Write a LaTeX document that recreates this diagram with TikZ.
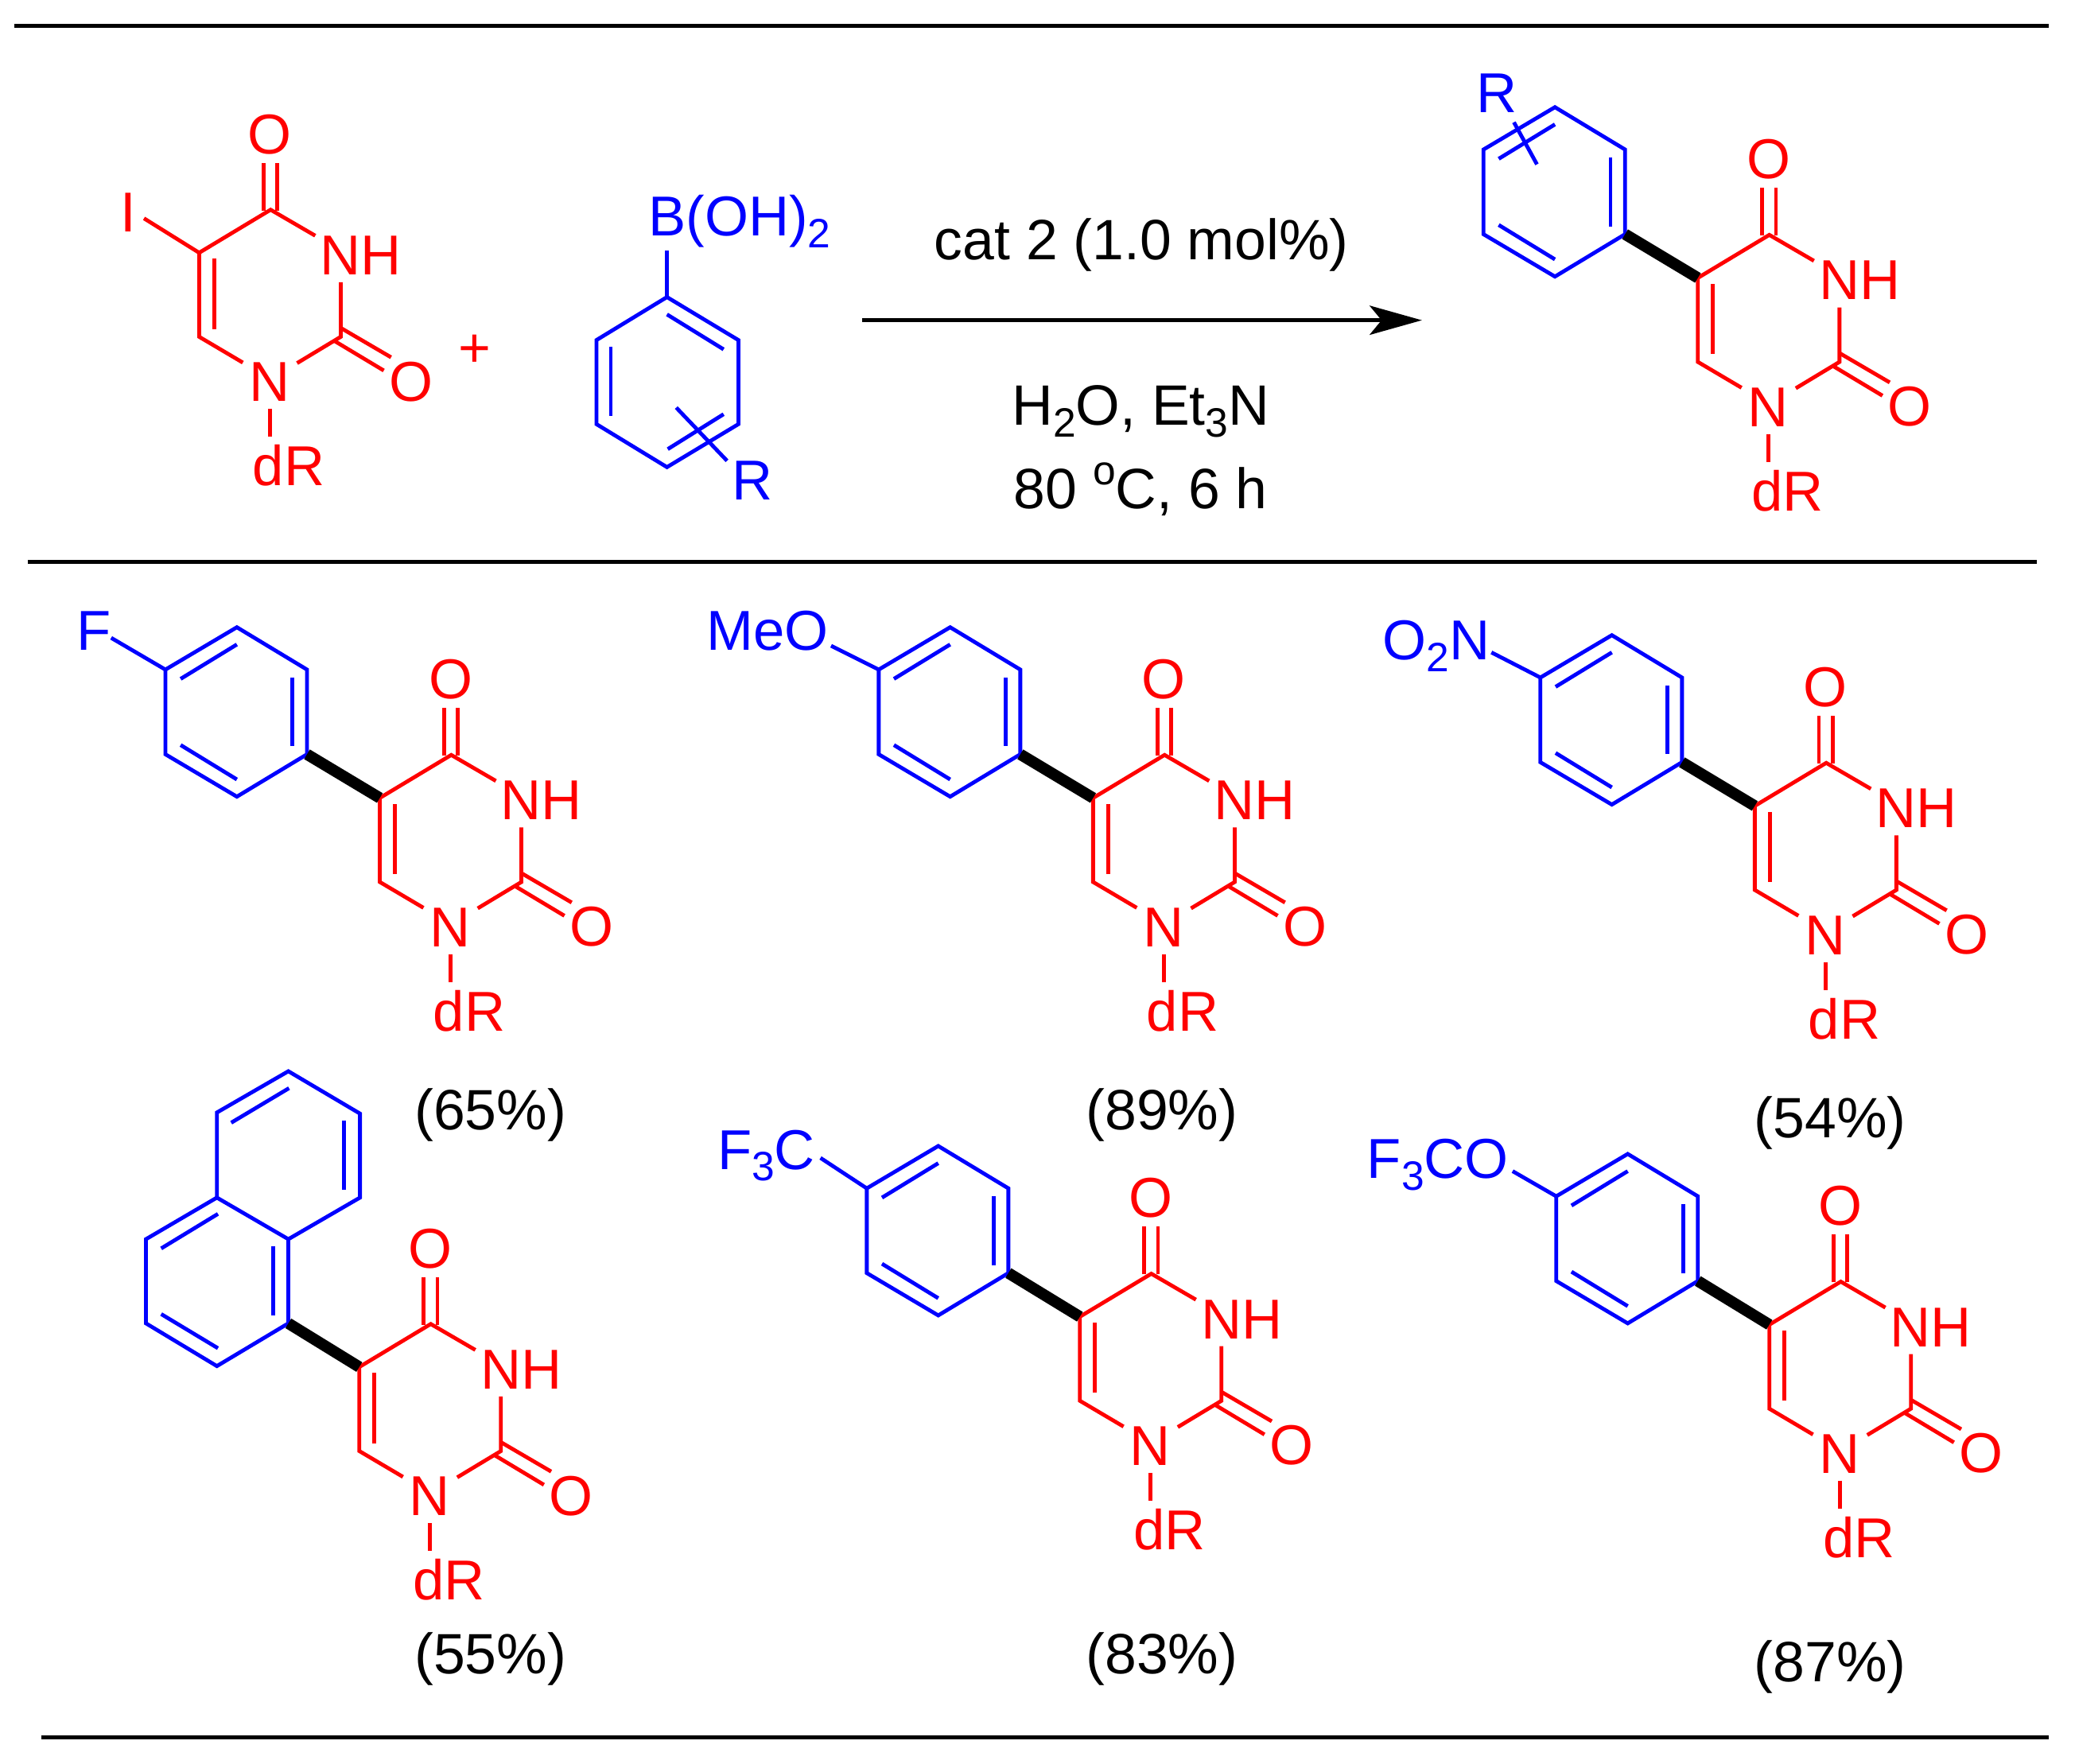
\documentclass[tikz,border=0pt]{standalone}
\usepackage{fontspec}
\setmainfont{Liberation Sans}
\usetikzlibrary{arrows.meta}
\definecolor{ured}{RGB}{255,0,0}
\definecolor{ablue}{RGB}{0,0,255}
\newcommand{\chemsub}[1]{\raisebox{-.21em}{\fontsize{31}{31}\selectfont #1}}
\newcommand{\chemsup}[1]{\raisebox{.42em}{\fontsize{31}{31}\selectfont #1}}
\tikzset{
  lab/.style={font=\fontsize{42.5}{42.5}\selectfont,inner sep=0pt,outer sep=0pt,anchor=base},
  rlab/.style={lab,text=ured},
  blab/.style={lab,text=ablue},
  txt/.style={font=\fontsize{43}{43}\selectfont,inner sep=0pt,outer sep=0pt,anchor=base,text=black},
  rbond/.style={draw=ured,line width=2.9pt,line join=miter},
  bbond/.style={draw=ablue,line width=2.9pt,line join=miter},
  wedge/.style={draw=black,line width=8.5pt},
  rulel/.style={draw=black,line width=3.1pt},
  uracil/.pic={
    \coordinate (-c5) at (0,0);
    \coordinate (-c4) at (54,-32.5);
    \coordinate (-c2) at (107,63.5);
    \coordinate (-c6) at (0,63.5);
    \node[rlab] (-o4) at (53.5,-75) {O};
    \node[rlab,anchor=base west] (-nh) at (91.5,16.5) {NH};
    \node[rlab] (-o2) at (160,112) {O};
    \node[rlab] (-n1) at (53,112.4) {N};
    \node[rlab,anchor=base west] (-dr) at (40.5,176) {dR};
    \coordinate (-c4n) at (87.7,-12.9);
    \coordinate (-c2n) at (107,22.3);
    \coordinate (-c2m) at (74,83.4);
    \coordinate (-c6m) at (33,83);
    \coordinate (-n1b) at (53.5,118);
    \coordinate (-drb) at (53.5,139);
    \coordinate (-i1) at (11.4,4.6);
    \coordinate (-i2) at (11.4,57.6);
    \coordinate (-oa1) at (48.5,-32);
    \coordinate (-oa2) at (48.5,-68);
    \coordinate (-ob1) at (59,-32);
    \coordinate (-ob2) at (59,-68);
    \coordinate (-pa1) at (107,56.8);
    \coordinate (-pa2) at (145,79);
    \coordinate (-pb1) at (102.5,66.8);
    \coordinate (-pb2) at (139.5,89);
    \draw[rbond] (-c6m) -- (-c6) -- (-c5) -- (-c4) -- (-c4n);
    \draw[rbond] (-c2n) -- (-c2) -- (-c2m);
    \draw[rbond] (-n1b) -- (-drb);
    \draw[rbond] (-i1) -- (-i2);
    \draw[rbond] (-oa1) -- (-oa2);
    \draw[rbond] (-ob1) -- (-ob2);
    \draw[rbond] (-pa1) -- (-pa2);
    \draw[rbond] (-pb1) -- (-pb2);
  },
  phenyl/.pic={
    \coordinate (-a) at (-55,-33);
    \coordinate (-b) at (-55,-97);
    \coordinate (-c) at (-108,-129);
    \coordinate (-d) at (-162,-97);
    \coordinate (-e) at (-162,-33);
    \coordinate (-f) at (-108,-1);
    \coordinate (-i1) at (-66,-91);
    \coordinate (-i2) at (-66,-39);
    \coordinate (-i3) at (-108,-116);
    \coordinate (-i4) at (-150.5,-90);
    \coordinate (-i5) at (-150.5,-40);
    \coordinate (-i6) at (-108,-14);
    \draw[bbond] (-a) -- (-b) -- (-c) -- (-d) -- (-e) -- (-f) -- cycle;
    \draw[bbond] (-i1) -- (-i2);
    \draw[bbond] (-i3) -- (-i4);
    \draw[bbond] (-i5) -- (-i6);
  }
}
\begin{document}
\begin{tikzpicture}[x=1pt,y=-1pt]
\useasboundingbox (0,0) rectangle (1568,1333);
% rules
\coordinate (r1a) at (11,19.5); \coordinate (r1b) at (1548,19.5);
\coordinate (r2a) at (21,424.5); \coordinate (r2b) at (1539,424.5);
\coordinate (r3a) at (31,1313); \coordinate (r3b) at (1548,1313);
\draw[rulel] (r1a) -- (r1b);
\draw[rulel] (r2a) -- (r2b);
\draw[rulel] (r3a) -- (r3b);
% reactant 1
\pic (u0) at (150.5,191) {uracil};
\node[rlab] (iod) at (97,175) {I};
\coordinate (ib) at (108.8,165);
\draw[rbond] (ib) -- (u0-c5);
\node[font=\fontsize{42}{42}\selectfont,text=ured,inner sep=0pt] (plus) at (359,265.5) {+};
% boronic acid
\coordinate (ba) at (504,224.5);
\coordinate (bb) at (558,257);
\coordinate (bc) at (558,320.5);
\coordinate (bd) at (504,353);
\coordinate (be) at (450.7,320.5);
\coordinate (bf) at (450.7,257);
\draw[bbond] (ba) -- (bb) -- (bc) -- (bd) -- (be) -- (bf) -- cycle;
\coordinate (bi1) at (504,237.6); \coordinate (bi2) at (546.8,264);
\coordinate (bi3) at (461.6,262); \coordinate (bi4) at (461.6,314.5);
\coordinate (bi5) at (546.8,313); \coordinate (bi6) at (504.6,339.4);
\draw[bbond] (bi1) -- (bi2);
\draw[bbond] (bi3) -- (bi4);
\draw[bbond] (bi5) -- (bi6);
\node[blab,anchor=base west] (boh) at (490,178) {B(OH)\chemsub{2}};
\coordinate (bt) at (504,189.5);
\draw[bbond] (bt) -- (ba);
\coordinate (bx1) at (511,308); \coordinate (bx2) at (549.4,348.2);
\draw[bbond] (bx1) -- (bx2);
\node[blab] (br) at (568.5,378) {R};
% arrow and conditions
\coordinate (arra) at (651.4,242); \coordinate (arrb) at (1074.5,242);
\draw[rulel,-{Stealth[length=39.5pt,width=22pt,inset=9pt]}] (arra) -- (arrb);
\node[txt] (cat) at (862.6,196.5) {cat 2 (1.0 mol\%)};
\node[txt] (sol) at (862,321) {H\chemsub{2}O, Et\chemsub{3}N};
\node[txt] (tem) at (862,384.5) {80 \chemsup{o}C, 6 h};
% top product
\pic (u1) at (1283,210) {uracil};
\pic (p1) at (1283,210) {phenyl};
\draw[wedge] (p1-a) -- (u1-c5);
\node[blab] (rt) at (1131,85) {R};
\coordinate (tx1) at (1144,92.4); \coordinate (tx2) at (1161.4,124.2);
\draw[bbond] (tx1) -- (tx2);
% F
\pic (u2) at (287,603) {uracil};
\pic (p2) at (287,603) {phenyl};
\draw[wedge] (p2-a) -- (u2-c5);
\node[blab] (sf) at (71,491.5) {F};
\coordinate (sfb) at (84,482);
\draw[bbond] (sfb) -- (p2-d);
\node[txt] (y65) at (370.6,853.5) {(65\%)};
% MeO
\pic (u3) at (826,603) {uracil};
\pic (p3) at (826,603) {phenyl};
\draw[wedge] (p3-a) -- (u3-c5);
\node[blab,anchor=base east] (smeo) at (626,491.5) {MeO};
\coordinate (smeob) at (628,488);
\draw[bbond] (smeob) -- (p3-d);
\node[txt] (y89) at (878,853.5) {(89\%)};
% O2N
\pic (u4) at (1326,609) {uracil};
\pic (p4) at (1326,609) {phenyl};
\draw[wedge] (p4-a) -- (u4-c5);
\node[blab,anchor=base east] (sno) at (1126,498.5) {O\chemsub{2}N};
\coordinate (snob) at (1127,493);
\draw[bbond] (snob) -- (p4-d);
\node[txt] (y54) at (1383,860) {(54\%)};
% naphthyl
\pic (u5) at (271.5,1033) {uracil};
\coordinate (n1) at (217.9,1000);
\coordinate (n2) at (217.9,936.4);
\coordinate (n3) at (163.9,905);
\coordinate (n4) at (110.3,936.4);
\coordinate (n5) at (110.3,1000);
\coordinate (n6) at (163.9,1032.3);
\coordinate (n7) at (163.9,840.7);
\coordinate (n8) at (217.9,809.5);
\coordinate (n9) at (272,841.5);
\coordinate (n10) at (272,905);
\draw[bbond] (n1) -- (n2) -- (n3) -- (n4) -- (n5) -- (n6) -- cycle;
\draw[bbond] (n3) -- (n7) -- (n8) -- (n9) -- (n10) -- (n2);
\coordinate (m1) at (206.6,942); \coordinate (m2) at (206.6,994);
\coordinate (m3) at (121.8,943.4); \coordinate (m4) at (164.7,917.3);
\coordinate (m5) at (121.8,993); \coordinate (m6) at (164.7,1018.8);
\coordinate (m7) at (174.7,848.4); \coordinate (m8) at (218.4,822.3);
\coordinate (m9) at (260,846.8); \coordinate (m10) at (260,899);
\draw[bbond] (m1) -- (m2);
\draw[bbond] (m3) -- (m4);
\draw[bbond] (m5) -- (m6);
\draw[bbond] (m7) -- (m8);
\draw[bbond] (m9) -- (m10);
\draw[wedge] (n1) -- (u5-c5);
\node[txt] (y55) at (370.6,1264.5) {(55\%)};
% CF3
\pic (u6) at (816,995) {uracil};
\pic (p6) at (817,995) {phenyl};
\draw[wedge] (p6-a) -- (u6-c5);
\node[blab,anchor=base east] (scf) at (616,883.5) {F\chemsub{3}C};
\coordinate (scfb) at (620,875);
\draw[bbond] (scfb) -- (p6-d);
\node[txt] (y83) at (878,1264.5) {(83\%)};
% OCF3
\pic (u7) at (1337,1001) {uracil};
\pic (p7) at (1338,1001) {phenyl};
\draw[wedge] (p7-a) -- (u7-c5);
\node[blab,anchor=base east] (socf) at (1140,890.5) {F\chemsub{3}CO};
\coordinate (socfb) at (1143,885);
\draw[bbond] (socfb) -- (p7-d);
\node[txt] (y87) at (1383,1271) {(87\%)};
\end{tikzpicture}
\end{document}
